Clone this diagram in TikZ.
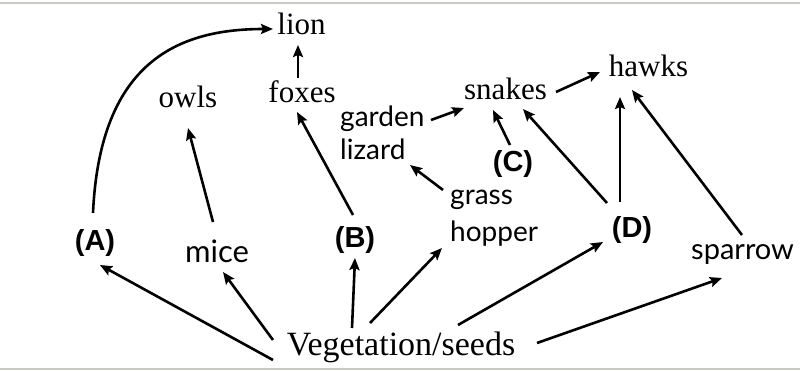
\documentclass[tikz,border=0pt]{standalone}
\usepackage{fontspec}
\setmainfont{Liberation Serif}
\newfontfamily\lato{Lato}
\newfontfamily\labfont{Liberation Sans}
\usetikzlibrary{arrows.meta}
\definecolor{rule}{RGB}{205,200,194}
\begin{document}
\begin{tikzpicture}[x=1pt,y=-1pt,
  serifname/.style={inner sep=0pt,font=\fontsize{31pt}{31pt}\selectfont},
  sansname/.style={inner sep=0pt,font=\lato\fontsize{28pt}{33pt}\selectfont},
  sansbig/.style={inner sep=0pt,font=\lato\fontsize{31pt}{33pt}\selectfont},
  letterlab/.style={inner sep=0pt,font=\labfont\bfseries\fontsize{29pt}{29pt}\selectfont},
  link/.style={line width=2.6pt,-{Stealth[length=12pt,width=10pt,inset=2pt]}},
  frame/.style={rule,line width=2pt}]
\useasboundingbox (0,0) rectangle (800,371);
\coordinate (tl) at (0,3);
\coordinate (tr) at (800,3);
\coordinate (bl) at (0,369);
\coordinate (br) at (800,369);
\draw[frame] (tl) -- (tr);
\draw[frame] (bl) -- (br);

\node[serifname,anchor=base] (lion) at (301.5,35) {lion};
\node[serifname,anchor=base] (foxes) at (302,103) {foxes};
\node[serifname,anchor=base] (owls) at (188,108) {owls};
\node[serifname,anchor=base] (snakes) at (505.5,100) {snakes};
\node[serifname,anchor=base] (hawks) at (648.5,77) {hawks};
\node[serifname,anchor=base,font=\fontsize{34pt}{34pt}\selectfont] (veg) at (401,355) {Vegetation/seeds};
\node[sansname,anchor=base west,align=left] (liz) at (340,160) {garden\\lizard};
\node[sansname,anchor=base west,align=left] (gh) at (450,242) {grass\\[4pt]hopper};
\node[sansbig,anchor=base] (mice) at (217,262) {mice};
\node[sansname,anchor=base west,font=\lato\fontsize{29pt}{33pt}\selectfont] (sparrow) at (691,260) {sparrow};
\node[letterlab,anchor=base] (A) at (95,251) {(A)};
\node[letterlab,anchor=base] (B) at (355,248) {(B)};
\node[letterlab,anchor=base] (C) at (513,172) {(C)};
\node[letterlab,anchor=base] (D) at (632,238) {(D)};

\draw[link] ([shift={(-2,-38)}]A.base) .. controls +(7,-153) and +(-93,0) .. ([shift={(-28.5,-6)}]lion.base);
\draw[link] ([shift={(-4,-25)}]foxes.base) -- ([shift={(-3.5,10)}]lion.base);
\draw[link] ([shift={(-4,-40)}]mice.base) -- ([shift={(0,20)}]owls.base);
\draw[link] ([shift={(-2,-33)}]B.base) -- ([shift={(-5,9)}]foxes.base);
\draw[link] ([shift={(-7,-52)}]gh.base west) -- ([shift={(70,5)}]liz.base west);
\draw[link] ([shift={(91,-40)}]liz.base west) -- ([shift={(-41.5,8)}]snakes.base);
\draw[link] ([shift={(-3,-27)}]C.base) -- ([shift={(-12.5,10)}]snakes.base);
\draw[link] ([shift={(50.5,-8)}]snakes.base) -- ([shift={(-48.5,-5)}]hawks.base);
\draw[link] ([shift={(-25,-35)}]D.base) -- ([shift={(17.5,9)}]snakes.base);
\draw[link] ([shift={(-12,-36)}]D.base) -- ([shift={(-28.5,20)}]hawks.base);
\draw[link] ([shift={(51,-25)}]sparrow.base west) -- ([shift={(-16.5,13)}]hawks.base);
\draw[link] ([shift={(-128,5)}]veg.base) -- ([shift={(5,14)}]A.base);
\draw[link] ([shift={(-128,-15)}]veg.base) -- ([shift={(6,10)}]mice.base);
\draw[link] ([shift={(-49,-27)}]veg.base) -- ([shift={(0,10)}]B.base);
\draw[link] ([shift={(-31,-32)}]veg.base) -- ([shift={(-8,6)}]gh.base west);
\draw[link] ([shift={(57,-30)}]veg.base) -- ([shift={(-29,4)}]D.base);
\draw[link] ([shift={(136,-12)}]veg.base) -- ([shift={(31,18)}]sparrow.base west);
\end{tikzpicture}
\end{document}
